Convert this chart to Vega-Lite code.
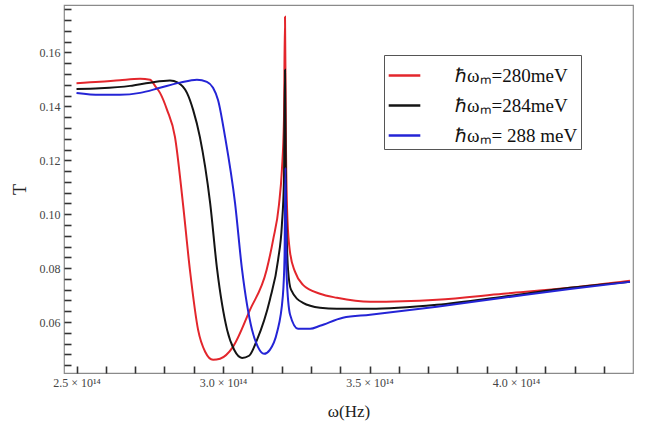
{
  "$schema": "https://vega.github.io/schema/vega-lite/v6.json",
  "autosize": "none",
  "width": 569,
  "height": 368,
  "padding": {"left": 64, "top": 5, "right": 20, "bottom": 54},
  "background": "white",
  "config": {
    "view": {"stroke": "#8a8a8a", "strokeWidth": 1.2}
  },
  "data": {"values": [
      {"series": "ℏωₘ=280meV", "w": 2.5, "T": 0.1486},
      {"series": "ℏωₘ=280meV", "w": 2.58, "T": 0.1491},
      {"series": "ℏωₘ=280meV", "w": 2.648, "T": 0.1497},
      {"series": "ℏωₘ=280meV", "w": 2.717, "T": 0.1502},
      {"series": "ℏωₘ=280meV", "w": 2.751, "T": 0.1499},
      {"series": "ℏωₘ=280meV", "w": 2.768, "T": 0.1476},
      {"series": "ℏωₘ=280meV", "w": 2.785, "T": 0.145},
      {"series": "ℏωₘ=280meV", "w": 2.809, "T": 0.1387},
      {"series": "ℏωₘ=280meV", "w": 2.836, "T": 0.1287},
      {"series": "ℏωₘ=280meV", "w": 2.863, "T": 0.1042},
      {"series": "ℏωₘ=280meV", "w": 2.887, "T": 0.0794},
      {"series": "ℏωₘ=280meV", "w": 2.915, "T": 0.0571},
      {"series": "ℏωₘ=280meV", "w": 2.939, "T": 0.049},
      {"series": "ℏωₘ=280meV", "w": 2.966, "T": 0.046},
      {"series": "ℏωₘ=280meV", "w": 2.99, "T": 0.0464},
      {"series": "ℏωₘ=280meV", "w": 3.034, "T": 0.0508},
      {"series": "ℏωₘ=280meV", "w": 3.092, "T": 0.0645},
      {"series": "ℏωₘ=280meV", "w": 3.149, "T": 0.0794},
      {"series": "ℏωₘ=280meV", "w": 3.171, "T": 0.0905},
      {"series": "ℏωₘ=280meV", "w": 3.191, "T": 0.1035},
      {"series": "ℏωₘ=280meV", "w": 3.201, "T": 0.1165},
      {"series": "ℏωₘ=280meV", "w": 3.208, "T": 0.135},
      {"series": "ℏωₘ=280meV", "w": 3.2116, "T": 0.1732},
      {"series": "ℏωₘ=280meV", "w": 3.215, "T": 0.1239},
      {"series": "ℏωₘ=280meV", "w": 3.22, "T": 0.0979},
      {"series": "ℏωₘ=280meV", "w": 3.229, "T": 0.0857},
      {"series": "ℏωₘ=280meV", "w": 3.246, "T": 0.0786},
      {"series": "ℏωₘ=280meV", "w": 3.273, "T": 0.0738},
      {"series": "ℏωₘ=280meV", "w": 3.331, "T": 0.0705},
      {"series": "ℏωₘ=280meV", "w": 3.389, "T": 0.069},
      {"series": "ℏωₘ=280meV", "w": 3.502, "T": 0.0675},
      {"series": "ℏωₘ=280meV", "w": 3.73, "T": 0.0683},
      {"series": "ℏωₘ=280meV", "w": 3.956, "T": 0.0705},
      {"series": "ℏωₘ=280meV", "w": 4.184, "T": 0.0727},
      {"series": "ℏωₘ=280meV", "w": 4.389, "T": 0.0753},
      {"series": "ℏωₘ=284meV", "w": 2.5, "T": 0.1464},
      {"series": "ℏωₘ=284meV", "w": 2.58, "T": 0.1467},
      {"series": "ℏωₘ=284meV", "w": 2.683, "T": 0.1476},
      {"series": "ℏωₘ=284meV", "w": 2.751, "T": 0.1488},
      {"series": "ℏωₘ=284meV", "w": 2.819, "T": 0.1496},
      {"series": "ℏωₘ=284meV", "w": 2.846, "T": 0.1488},
      {"series": "ℏωₘ=284meV", "w": 2.877, "T": 0.145},
      {"series": "ℏωₘ=284meV", "w": 2.898, "T": 0.1387},
      {"series": "ℏωₘ=284meV", "w": 2.921, "T": 0.1287},
      {"series": "ℏωₘ=284meV", "w": 2.956, "T": 0.1042},
      {"series": "ℏωₘ=284meV", "w": 2.98, "T": 0.0794},
      {"series": "ℏωₘ=284meV", "w": 3.014, "T": 0.0571},
      {"series": "ℏωₘ=284meV", "w": 3.038, "T": 0.0497},
      {"series": "ℏωₘ=284meV", "w": 3.065, "T": 0.0467},
      {"series": "ℏωₘ=284meV", "w": 3.089, "T": 0.0475},
      {"series": "ℏωₘ=284meV", "w": 3.116, "T": 0.0534},
      {"series": "ℏωₘ=284meV", "w": 3.16, "T": 0.0683},
      {"series": "ℏωₘ=284meV", "w": 3.188, "T": 0.0831},
      {"series": "ℏωₘ=284meV", "w": 3.201, "T": 0.0961},
      {"series": "ℏωₘ=284meV", "w": 3.208, "T": 0.1127},
      {"series": "ℏωₘ=284meV", "w": 3.2116, "T": 0.1536},
      {"series": "ℏωₘ=284meV", "w": 3.215, "T": 0.1053},
      {"series": "ℏωₘ=284meV", "w": 3.222, "T": 0.0794},
      {"series": "ℏωₘ=284meV", "w": 3.232, "T": 0.072},
      {"series": "ℏωₘ=284meV", "w": 3.273, "T": 0.0671},
      {"series": "ℏωₘ=284meV", "w": 3.331, "T": 0.0653},
      {"series": "ℏωₘ=284meV", "w": 3.389, "T": 0.0649},
      {"series": "ℏωₘ=284meV", "w": 3.502, "T": 0.0649},
      {"series": "ℏωₘ=284meV", "w": 3.73, "T": 0.0664},
      {"series": "ℏωₘ=284meV", "w": 3.956, "T": 0.0694},
      {"series": "ℏωₘ=284meV", "w": 4.184, "T": 0.0727},
      {"series": "ℏωₘ=284meV", "w": 4.389, "T": 0.0749},
      {"series": "ℏωₘ= 288 meV", "w": 2.5, "T": 0.145},
      {"series": "ℏωₘ= 288 meV", "w": 2.58, "T": 0.1443},
      {"series": "ℏωₘ= 288 meV", "w": 2.648, "T": 0.1443},
      {"series": "ℏωₘ= 288 meV", "w": 2.717, "T": 0.145},
      {"series": "ℏωₘ= 288 meV", "w": 2.785, "T": 0.1469},
      {"series": "ℏωₘ= 288 meV", "w": 2.853, "T": 0.1488},
      {"series": "ℏωₘ= 288 meV", "w": 2.911, "T": 0.1499},
      {"series": "ℏωₘ= 288 meV", "w": 2.945, "T": 0.1491},
      {"series": "ℏωₘ= 288 meV", "w": 2.966, "T": 0.1469},
      {"series": "ℏωₘ= 288 meV", "w": 2.983, "T": 0.1424},
      {"series": "ℏωₘ= 288 meV", "w": 3.007, "T": 0.1287},
      {"series": "ℏωₘ= 288 meV", "w": 3.041, "T": 0.1042},
      {"series": "ℏωₘ= 288 meV", "w": 3.065, "T": 0.0794},
      {"series": "ℏωₘ= 288 meV", "w": 3.099, "T": 0.0571},
      {"series": "ℏωₘ= 288 meV", "w": 3.119, "T": 0.0508},
      {"series": "ℏωₘ= 288 meV", "w": 3.14, "T": 0.0482},
      {"series": "ℏωₘ= 288 meV", "w": 3.16, "T": 0.0497},
      {"series": "ℏωₘ= 288 meV", "w": 3.184, "T": 0.056},
      {"series": "ℏωₘ= 288 meV", "w": 3.204, "T": 0.0694},
      {"series": "ℏωₘ= 288 meV", "w": 3.21, "T": 0.0842},
      {"series": "ℏωₘ= 288 meV", "w": 3.213, "T": 0.1172},
      {"series": "ℏωₘ= 288 meV", "w": 3.217, "T": 0.0775},
      {"series": "ℏωₘ= 288 meV", "w": 3.229, "T": 0.0627},
      {"series": "ℏωₘ= 288 meV", "w": 3.256, "T": 0.0575},
      {"series": "ℏωₘ= 288 meV", "w": 3.297, "T": 0.0575},
      {"series": "ℏωₘ= 288 meV", "w": 3.331, "T": 0.0586},
      {"series": "ℏωₘ= 288 meV", "w": 3.409, "T": 0.0616},
      {"series": "ℏωₘ= 288 meV", "w": 3.502, "T": 0.0627},
      {"series": "ℏωₘ= 288 meV", "w": 3.73, "T": 0.0657},
      {"series": "ℏωₘ= 288 meV", "w": 3.956, "T": 0.069},
      {"series": "ℏωₘ= 288 meV", "w": 4.184, "T": 0.0723},
      {"series": "ℏωₘ= 288 meV", "w": 4.389, "T": 0.0749}
  ]},
  "mark": {"type": "line", "strokeWidth": 2, "interpolate": "monotone"},
  "encoding": {
    "x": {
      "field": "w", "type": "quantitative",
      "scale": {"domain": [2.4573, 4.3993], "nice": false, "zero": false},
      "axis": {
        "values": [2.5, 2.6, 2.7, 2.8, 2.9, 3.0, 3.1, 3.2, 3.3, 3.4, 3.5, 3.6, 3.7, 3.8, 3.9, 4.0, 4.1, 4.2, 4.3],
        "labelExpr": "abs(datum.value*2 - round(datum.value*2)) < 0.01 ? format(datum.value, '.1f') + ' × 10¹⁴' : ''",
        "labelFont": "Liberation Serif",
        "labelFontSize": 12,
        "labelColor": "#444",
        "labelPadding": 11,
        "domain": false,
        "grid": false,
        "ticks": true,
        "tickColor": "#333",
        "tickWidth": 1.6,
        "tickSize": -7,
        "title": "ω(Hz)",
        "titleFont": "Liberation Serif",
        "titleFontSize": 17,
        "titleFontWeight": "normal",
        "titleColor": "#222",
        "titleBaseline": "middle",
        "titleY": 38
      }
    },
    "y": {
      "field": "T", "type": "quantitative",
      "scale": {"domain": [0.0411, 0.1776], "nice": false, "zero": false},
      "axis": {
        "values": [0.044, 0.048, 0.052, 0.056, 0.06, 0.064, 0.068, 0.072, 0.076, 0.08, 0.084, 0.088, 0.092, 0.096, 0.1, 0.104, 0.108, 0.112, 0.116, 0.12, 0.124, 0.128, 0.132, 0.136, 0.14, 0.144, 0.148, 0.152, 0.156, 0.16, 0.164, 0.168, 0.172, 0.176],
        "labelExpr": "abs(datum.value*50 - round(datum.value*50)) < 0.01 ? format(datum.value, '.2f') : ''",
        "labelFont": "Liberation Serif",
        "labelFontSize": 12,
        "labelColor": "#444",
        "labelPadding": 11,
        "domain": false,
        "grid": false,
        "ticks": true,
        "tickColor": "#333",
        "tickWidth": 1.6,
        "tickSize": -7,
        "title": "T",
        "titleFont": "Liberation Serif",
        "titleFontSize": 18,
        "titleFontWeight": "normal",
        "titleColor": "#222",
        "titleX": -44,
        "titleY": 184,
        "titleBaseline": "middle",
        "titleAngle": -90
      }
    },
    "color": {
      "field": "series", "type": "nominal", "sort": null,
      "scale": {"domain": ["ℏωₘ=280meV", "ℏωₘ=284meV", "ℏωₘ= 288 meV"], "range": ["#e3262c", "#141414", "#2424d6"]},
      "legend": {
        "orient": "none",
        "legendX": 320,
        "legendY": 50,
        "title": null,
        "strokeColor": "#555",
        "fillColor": "white",
        "padding": 3,
        "symbolType": "stroke",
        "symbolSize": 1000,
        "symbolStrokeWidth": 2.5,
        "labelFont": "Liberation Serif",
        "labelFontSize": 19,
        "labelColor": "#111",
        "labelOffset": 33,
        "rowPadding": 2
      }
    }
  }
}
